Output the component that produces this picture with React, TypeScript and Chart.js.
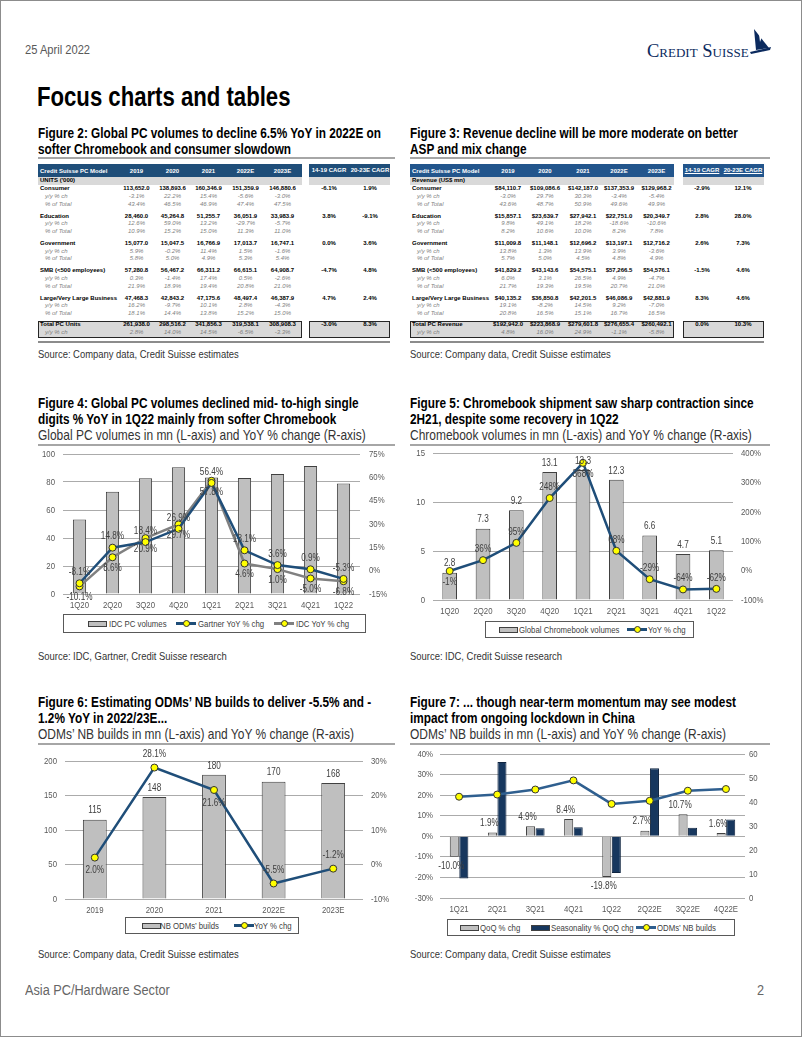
import React, { useEffect, useRef } from 'react';
import { Chart, registerables } from 'chart.js';

const SANS = '"Liberation Sans", Arial, sans-serif';
const NARROW_SCALE = 0.82;

// ---------------- Figure 2 (PC units, '000) ----------------
const tableYears = ['2019', '2020', '2021', '2022E', '2023E'];
const cagrHeaders = ['14-19 CAGR', '20-23E CAGR'];
const segments = ['Consumer', 'Education', 'Government', 'SMB (<500 employees)', 'Large/Very Large Business'];
const unitValues = [
  [113652.0, 138893.6, 160346.9, 151359.9, 146880.6],
  [28460.0, 45264.8, 51255.7, 36051.9, 33983.9],
  [15077.0, 15047.5, 16766.9, 17013.7, 16747.1],
  [57280.8, 56467.2, 66311.2, 66615.1, 64908.7],
  [47468.3, 42843.2, 47175.6, 48497.4, 46387.9],
];
const unitYoY = [
  [-3.1, 22.2, 15.4, -5.6, -3.0],
  [12.6, 59.0, 13.2, -29.7, -5.7],
  [5.9, -0.2, 11.4, 1.5, -1.6],
  [0.3, -1.4, 17.4, 0.5, -2.6],
  [16.2, -9.7, 10.1, 2.8, -4.3],
];
const unitShare = [
  [43.4, 46.5, 46.9, 47.4, 47.5],
  [10.9, 15.2, 15.0, 11.3, 11.0],
  [5.8, 5.0, 4.9, 5.3, 5.4],
  [21.9, 18.9, 19.4, 20.8, 21.0],
  [18.1, 14.4, 13.8, 15.2, 15.0],
];
const unitCagr = [[-6.1, 1.9], [3.8, -9.1], [0.0, 3.6], [-4.7, 4.8], [4.7, 2.4]];
const unitTotal = [261938.0, 298516.2, 341856.3, 319538.1, 308908.3];
const unitTotalYoY = [2.8, 14.0, 14.5, -6.5, -3.3];
const unitTotalCagr = [-3.0, 8.3];

// ---------------- Figure 3 (revenue, US$ mn) ----------------
const revValues = [
  [84110.7, 109086.6, 142187.0, 137353.9, 129968.2],
  [15857.1, 23639.7, 27942.1, 22751.0, 20349.7],
  [11009.8, 11148.1, 12696.2, 13197.1, 12716.2],
  [41829.2, 43143.6, 54575.1, 57266.5, 54576.1],
  [40135.2, 36850.8, 42201.5, 46086.9, 42881.9],
];
const revYoY = [
  [-3.0, 29.7, 30.3, -3.4, -5.4],
  [9.8, 49.1, 18.2, -18.6, -10.6],
  [13.8, 1.3, 13.9, 3.9, -3.6],
  [6.0, 3.1, 26.5, 4.9, -4.7],
  [19.1, -8.2, 14.5, 9.2, -7.0],
];
const revShare = [
  [43.6, 48.7, 50.9, 49.6, 49.9],
  [8.2, 10.6, 10.0, 8.2, 7.8],
  [5.7, 5.0, 4.5, 4.8, 4.9],
  [21.7, 19.3, 19.5, 20.7, 21.0],
  [20.8, 16.5, 15.1, 16.7, 16.5],
];
const revCagr = [[-2.9, 12.1], [2.8, 28.0], [2.6, 7.3], [-1.5, 4.6], [8.3, 4.6]];
const revTotal = [192942.0, 223868.9, 279601.8, 276655.4, 260492.1];
const revTotalYoY = [4.8, 16.0, 24.9, -1.1, -5.8];
const revTotalCagr = [0.0, 10.3];

// ---------------- Figure 4 ----------------
const pcQuarters = ['1Q20', '2Q20', '3Q20', '4Q20', '1Q21', '2Q21', '3Q21', '4Q21', '1Q22'];
const idcVolumes = [53.3, 73.1, 82.6, 90.5, 83.3, 82.9, 85.7, 91.4, 79.0];
const gartnerYoY = [-8.1, 14.8, 18.4, 26.9, 56.4, 13.1, 3.6, 0.9, -5.3];
const idcYoY = [-10.1, 8.6, 20.9, 29.7, 57.8, 4.6, 1.0, -5.0, -6.8];

// ---------------- Figure 5 ----------------
const cbQuarters = ['1Q20', '2Q20', '3Q20', '4Q20', '1Q21', '2Q21', '3Q21', '4Q21', '1Q22'];
const cbVolumes = [2.8, 7.3, 9.2, 13.1, 13.3, 12.3, 6.6, 4.7, 5.1];
const cbYoY = [-1, 36, 95, 248, 368, 68, -29, -64, -62];

// ---------------- Figure 6 ----------------
const odmYears = ['2019', '2020', '2021', '2022E', '2023E'];
const odmBuilds = [115, 148, 180, 170, 168];
const odmYoY = [2.0, 28.1, 21.6, -5.5, -1.2];

// ---------------- Figure 7 ----------------
const nbQuarters = ['1Q21', '2Q21', '3Q21', '4Q21', '1Q22', '2Q22E', '3Q22E', '4Q22E'];
const nbQoQ = [-10.0, 1.9, 4.9, 8.4, -19.8, 2.7, 10.7, 1.6];
const nbSeasonality = [-20.5, 36.1, 3.9, 4.4, -17.9, 33.1, 4.1, 8.2];
const nbBuilds = [42.2, 43.1, 45.2, 49.0, 39.2, 40.5, 44.7, 45.4];

// ---------------- Chart.js setup ----------------
const valueLabelPlugin = {
  id: 'valueLabels',
  afterDatasetsDraw(chart: any) {
    const ctx = chart.ctx;
    chart.data.datasets.forEach((ds: any, i: number) => {
      const lab = ds.valueLabels;
      if (!lab) return;
      const meta = chart.getDatasetMeta(i);
      ctx.save();
      ctx.font = `${lab.size || 10}px ${SANS}`;
      ctx.fillStyle = lab.color || '#404040';
      ctx.textAlign = 'center';
      ctx.textBaseline = 'middle';
      meta.data.forEach((el: any, j: number) => {
        const v = ds.data[j];
        const pos = Array.isArray(lab.pos) ? lab.pos[j] : lab.pos;
        const off = lab.offset ?? 10;
        let y = el.y;
        if (pos === 'end') y = v >= 0 ? el.y - off : el.y + off;
        else if (pos === 'below') y = el.y + off;
        else y = el.y - off;
        ctx.fillText(lab.fmt(v), el.x + (lab.dx || 0), y);
      });
      ctx.restore();
    });
  },
};

Chart.register(...registerables, valueLabelPlugin);

const tickFont = { family: SANS, size: 9.5 };
const tickColor = '#595959';
const gridColor = '#ababab';

function yAxis(position: string, min: number, max: number, step: number, width: number, suffix: string, grid: boolean, padding: number) {
  return {
    position,
    min,
    max,
    ticks: {
      stepSize: step,
      color: tickColor,
      font: tickFont,
      padding,
      callback: (v: any) => `${v}${suffix}`,
    },
    grid: { display: grid, color: gridColor, drawTicks: false, lineWidth: 1 },
    border: { display: false },
    afterFit: (s: any) => { s.width = width; s.paddingTop = 0; s.paddingBottom = 0; },
  };
}

function xAxis(height: number) {
  return {
    grid: { display: false, drawTicks: false },
    border: { display: false },
    ticks: { color: tickColor, font: tickFont, padding: 6, maxRotation: 0, autoSkip: false },
    afterFit: (s: any) => { s.height = height; s.paddingLeft = 0; s.paddingRight = 0; },
  };
}

const baseOptions = (top: number) => ({
  responsive: false,
  animation: false,
  devicePixelRatio: 1,
  layout: { padding: { top, left: 0, right: 0, bottom: 0 } },
  plugins: { legend: { display: false }, tooltip: { enabled: false } },
});

const pct0 = (v: number) => `${v}%`;
const pct1 = (v: number) => `${v.toFixed(1)}%`;

const lineStyle = (color: string) => ({
  type: 'line',
  borderColor: color,
  backgroundColor: color,
  borderWidth: 2.5,
  pointRadius: 3.5,
  pointBackgroundColor: '#ffff00',
  pointBorderColor: '#333333',
  pointBorderWidth: 1,
  tension: 0,
  yAxisID: 'y1',
});

const barStyle = (color: string) => ({
  type: 'bar',
  backgroundColor: color,
  borderColor: '#404040',
  borderWidth: 1,
  yAxisID: 'y',
});

const fig4Config: any = {
  type: 'bar',
  data: {
    labels: pcQuarters,
    datasets: [
      { ...lineStyle('#1f4e79'), label: 'Gartner YoY % chg', data: gartnerYoY, order: 0,
        valueLabels: { fmt: pct1, pos: 'above', offset: 11 } },
      { ...lineStyle('#808080'), label: 'IDC YoY % chg', data: idcYoY, order: 1,
        valueLabels: { fmt: pct1, pos: 'below', offset: 11 } },
      { ...barStyle('#bfbfbf'), label: 'IDC PC volumes', data: idcVolumes, order: 2,
        categoryPercentage: 0.8, barPercentage: 0.5 },
    ],
  },
  options: {
    ...baseOptions(8),
    scales: {
      x: xAxis(18),
      y: yAxis('left', 0, 100, 20, 25, '', true, 8),
      y1: yAxis('right', -15, 75, 15, 35, '%', false, 9),
    },
  },
};

const fig5Config: any = {
  type: 'bar',
  data: {
    labels: cbQuarters,
    datasets: [
      { ...lineStyle('#1f4e79'), label: 'YoY % chg', data: cbYoY, order: 0,
        valueLabels: { fmt: pct0, pos: ['below', 'above', 'above', 'above', 'below', 'above', 'above', 'above', 'above'], offset: 11 } },
      { ...barStyle('#bfbfbf'), label: 'Global Chromebook volumes', data: cbVolumes, order: 1,
        categoryPercentage: 0.8, barPercentage: 0.55,
        valueLabels: { fmt: (v: number) => v.toFixed(1), pos: 'end', offset: 9 } },
    ],
  },
  options: {
    ...baseOptions(7.5),
    scales: {
      x: xAxis(18),
      y: yAxis('left', 0, 15, 5, 23, '', true, 8),
      y1: yAxis('right', -100, 400, 100, 37, '%', false, 8),
    },
  },
};

const fig6Config: any = {
  type: 'bar',
  data: {
    labels: odmYears,
    datasets: [
      { ...lineStyle('#1f4e79'), label: 'YoY % chg', data: odmYoY, order: 0,
        valueLabels: { fmt: pct1, pos: ['below', 'above', 'below', 'above', 'above'], offset: 13 } },
      { ...barStyle('#bfbfbf'), label: 'NB ODMs’ builds', data: odmBuilds, order: 1,
        categoryPercentage: 0.8, barPercentage: 0.5,
        valueLabels: { fmt: (v: number) => `${v}`, pos: 'end', offset: 9 } },
    ],
  },
  options: {
    ...baseOptions(14),
    scales: {
      x: xAxis(18),
      y: yAxis('left', 0, 200, 50, 27, '', true, 8),
      y1: yAxis('right', -10, 30, 10, 32, '%', false, 8),
    },
  },
};

const fig7Config: any = {
  type: 'bar',
  data: {
    labels: nbQuarters,
    datasets: [
      { ...lineStyle('#2f5f8f'), label: 'ODMs’ NB builds', data: nbBuilds, order: 0 },
      { ...barStyle('#bfbfbf'), label: 'QoQ % chg', data: nbQoQ, order: 1,
        categoryPercentage: 0.5, barPercentage: 0.95,
        valueLabels: { fmt: pct1, pos: 'end', offset: 9, dx: -3 } },
      { ...barStyle('#17375e'), label: 'Seasonality % QoQ chg', data: nbSeasonality, order: 2,
        categoryPercentage: 0.5, barPercentage: 0.95, borderColor: '#0f2440' },
    ],
  },
  options: {
    ...baseOptions(8),
    scales: {
      x: xAxis(18),
      y: yAxis('left', -30, 40, 10, 30, '%', true, 7),
      y1: yAxis('right', 0, 60, 10, 25, '', false, 4),
    },
  },
};

// ---------------- components ----------------
function ChartBox({ left, top, width, height, config }: any) {
  const ref = useRef<HTMLCanvasElement>(null);
  useEffect(() => {
    const canvas = ref.current as HTMLCanvasElement;
    const ctx: any = canvas.getContext('2d');
    // condensed text rendering (emulates a narrow sans face)
    const orig = ctx.fillText.bind(ctx);
    ctx.fillText = (text: string, x: number, y: number, maxWidth?: number) => {
      ctx.save();
      ctx.translate(x, y);
      ctx.scale(NARROW_SCALE, 1);
      if (maxWidth === undefined) orig(text, 0, 0);
      else orig(text, 0, 0, maxWidth / NARROW_SCALE);
      ctx.restore();
    };
    const chart = new Chart(canvas, config);
    return () => { chart.destroy(); ctx.fillText = orig; };
  }, []);
  return (
    <canvas ref={ref} width={width} height={height}
      style={{ position: 'absolute', left, top, width, height }} />
  );
}

function T({ x, y, s = 12, w = 400, c = '#000', narrow = true, italic = false, align = 'left', u = false, children }: any) {
  const style: any = {
    position: 'absolute', top: y - s * 0.6, height: s * 1.2, lineHeight: `${s * 1.2}px`,
    fontSize: s, fontWeight: w, color: c, fontFamily: SANS, whiteSpace: 'nowrap',
    fontStyle: italic ? 'italic' : 'normal', textDecoration: u ? 'underline' : 'none',
  };
  if (align === 'center') { style.left = x - 60; style.width = 120; style.textAlign = 'center'; }
  else if (align === 'right') { style.left = x - 200; style.width = 200; style.textAlign = 'right'; }
  else style.left = x;
  const origin = align === 'center' ? 'center' : align === 'right' ? 'right' : 'left';
  return (
    <div style={style}>
      {narrow ? (
        <span style={{ display: 'inline-block', transform: `scaleX(${NARROW_SCALE})`, transformOrigin: origin }}>{children}</span>
      ) : children}
    </div>
  );
}

function Box({ x, y, w, h, bg = 'transparent', border }: any) {
  return <div style={{ position: 'absolute', left: x, top: y, width: w, height: h, background: bg, border, boxSizing: 'border-box' }} />;
}

const fmtNum = (v: number, prefix: string) =>
  prefix + v.toLocaleString('en-US', { minimumFractionDigits: 1, maximumFractionDigits: 1 });

function DataTable({ x0, mainRight, cagrLeft, cagrRight, cols, cagrCols, unitLabel, totalLabel, values, yoy, share, cagr, total, totalYoy, totalCagr, prefix, underline, headerBlue }: any) {
  const fs = 6;
  const n = false;
  const items: any[] = [];
  const hTop = 164, hBot = 177;
  items.push(<Box key="hb" x={x0} y={hTop} w={mainRight - x0} h={hBot - hTop} bg={headerBlue} />);
  items.push(<Box key="hc" x={cagrLeft} y={hTop} w={cagrRight - cagrLeft} h={hBot - hTop} bg={headerBlue} />);
  items.push(<Box key="ug" x={x0} y={hBot} w={mainRight - x0} h={7.5} bg="#d9d9d9" />);
  items.push(<Box key="ugc" x={cagrLeft} y={hBot} w={cagrRight - cagrLeft} h={7.5} bg="#d9d9d9" />);
  const hy = 172;
  items.push(<T key="ht" x={x0 + 2} y={hy} s={fs} w={700} c="#fff" narrow={n}>Credit Suisse PC Model</T>);
  tableYears.forEach((yr: string, i: number) =>
    items.push(<T key={'hy' + i} x={cols[i]} y={hy} s={fs} w={700} c="#fff" narrow={n} align="center">{yr}</T>));
  cagrHeaders.forEach((h: string, i: number) =>
    items.push(<T key={'hcg' + i} x={cagrCols[i]} y={hy - 1} s={fs} w={700} c="#fff" narrow={n} align="center" u={underline}>{h}</T>));
  items.push(<T key="ul" x={x0 + 2} y={181} s={fs} w={700} c="#000" narrow={n}>{unitLabel}</T>);
  segments.forEach((seg: string, g: number) => {
    const base = 189 + g * 27.3;
    items.push(<T key={'sg' + g} x={x0 + 2} y={base} s={fs} w={700} narrow={n}>{seg}</T>);
    items.push(<T key={'sy' + g} x={x0 + 7} y={base + 7.7} s={fs} italic c="#7f7f7f" narrow={n}>y/y % ch</T>);
    items.push(<T key={'ss' + g} x={x0 + 7} y={base + 15.4} s={fs} italic c="#7f7f7f" narrow={n}>% of Total</T>);
    values[g].forEach((v: number, i: number) => {
      items.push(<T key={`v${g}-${i}`} x={cols[i]} y={base} s={fs} w={700} narrow={n} align="center">{fmtNum(v, prefix)}</T>);
      items.push(<T key={`y${g}-${i}`} x={cols[i]} y={base + 7.7} s={fs} italic c="#7f7f7f" narrow={n} align="center">{yoy[g][i].toFixed(1)}%</T>);
      items.push(<T key={`s${g}-${i}`} x={cols[i]} y={base + 15.4} s={fs} italic c="#7f7f7f" narrow={n} align="center">{share[g][i].toFixed(1)}%</T>);
    });
    cagr[g].forEach((v: number, i: number) =>
      items.push(<T key={`c${g}-${i}`} x={cagrCols[i]} y={base} s={fs} w={700} narrow={n} align="center">{v.toFixed(1)}%</T>));
  });
  items.push(<Box key="tb" x={x0} y={320.5} w={mainRight - x0} h={17} bg="#d9d9d9" border="1.5px solid #262626" />);
  items.push(<Box key="tbc" x={cagrLeft} y={320.5} w={cagrRight - cagrLeft} h={17} bg="#d9d9d9" border="1.5px solid #262626" />);
  items.push(<T key="tl" x={x0 + 2} y={325} s={fs} w={700} narrow={n}>{totalLabel}</T>);
  items.push(<T key="tly" x={x0 + 7} y={333} s={fs} italic c="#7f7f7f" narrow={n}>y/y % ch</T>);
  total.forEach((v: number, i: number) => {
    items.push(<T key={'tv' + i} x={cols[i]} y={325} s={fs} w={700} narrow={n} align="center">{fmtNum(v, prefix)}</T>);
    items.push(<T key={'ty' + i} x={cols[i]} y={333} s={fs} italic c="#7f7f7f" narrow={n} align="center">{totalYoy[i].toFixed(1)}%</T>);
  });
  totalCagr.forEach((v: number, i: number) =>
    items.push(<T key={'tc' + i} x={cagrCols[i]} y={325} s={fs} w={700} narrow={n} align="center">{v.toFixed(1)}%</T>));
  items.push(<Box key="bl" x={x0} y={341} w={cagrRight - x0} h={1.5} bg="#8c8c8c" />);
  return <>{items}</>;
}

function Legend({ x, y, w, h, items }: any) {
  const cy = y + h / 2;
  return (
    <>
      <Box x={x} y={y} w={w} h={h} border="1px solid #595959" />
      {items.map((it: any, i: number) => (
        <React.Fragment key={i}>
          {it.kind === 'bar' ? (
            <div style={{ position: 'absolute', left: it.sx, top: cy - 3, width: 19, height: 6, background: it.color, border: '1px solid #404040', boxSizing: 'border-box' }} />
          ) : (
            <>
              <div style={{ position: 'absolute', left: it.sx, top: cy - 1.25, width: 20, height: 2.5, background: it.color }} />
              <div style={{ position: 'absolute', left: it.sx + 6.5, top: cy - 3.5, width: 7, height: 7, borderRadius: '50%', background: '#ffff00', border: '1px solid #333', boxSizing: 'border-box' }} />
            </>
          )}
          <T x={it.tx} y={cy} s={9.5} c="#404040">{it.label}</T>
        </React.Fragment>
      ))}
    </>
  );
}

function Heading({ x, y, lines, sub }: any) {
  return (
    <>
      {lines.map((l: string, i: number) => (
        <T key={i} x={x} y={y + i * 16} s={14.4} w={700}>{l}</T>
      ))}
      {sub ? <T x={x} y={y + lines.length * 16} s={14.6} c="#333">{sub}</T> : null}
    </>
  );
}

export default function App() {
  return (
    <div style={{ position: 'fixed', left: 0, top: 0, width: 802, height: 1037, background: '#fff', overflow: 'hidden', fontFamily: SANS }}>
      <div style={{ position: 'absolute', left: 0, top: 0, width: 802, height: 1037, border: '1px solid #8c8c8c', boxSizing: 'border-box' }} />

      <T x={25} y={50} s={13.6} c="#595959">25 April 2022</T>
      <div style={{ position: 'absolute', left: 647, top: 41, fontFamily: '"Liberation Serif", serif', fontVariant: 'small-caps', fontSize: 18.5, color: '#0b2a5e', whiteSpace: 'nowrap', lineHeight: '20px' }}>Credit Suisse</div>
      <svg style={{ position: 'absolute', left: 747, top: 28 }} width={26} height={28} viewBox="0 0 26 28">
        <polygon points="7,1 22,20 9,22" fill="#0b2a5e" />
        <polygon points="12,6 15,9 13,14" fill="#ffffff" />
        <polygon points="3,24 24,19 23,22 4,26" fill="#0b2a5e" />
      </svg>
      <T x={37} y={97} s={27} w={700}>Focus charts and tables</T>

      {/* Figure 2 & 3 */}
      <Heading x={38} y={134} lines={['Figure 2: Global PC volumes to decline 6.5% YoY in 2022E on', 'softer Chromebook and consumer slowdown']} />
      <Heading x={410} y={134} lines={['Figure 3: Revenue decline will be more moderate on better', 'ASP and mix change']} />
      <Box x={38} y={157} w={357} h={2} bg="#a6a6a6" />
      <Box x={410} y={157} w={360} h={2} bg="#a6a6a6" />

      <DataTable x0={38} mainRight={302} cagrLeft={309} cagrRight={390}
        cols={[136.5, 172.5, 208.5, 245.5, 282.5]} cagrCols={[329, 370]}
        unitLabel="UNITS ('000)" totalLabel="Total PC Units"
        values={unitValues} yoy={unitYoY} share={unitShare} cagr={unitCagr}
        total={unitTotal} totalYoy={unitTotalYoY} totalCagr={unitTotalCagr} prefix="" underline={false} headerBlue="#1f4e79" />
      <DataTable x0={410} mainRight={674} cagrLeft={683} cagrRight={764}
        cols={[508, 545, 583, 619, 656.5]} cagrCols={[702, 743]}
        unitLabel="Revenue (US$ mn)" totalLabel="Total PC Revenue"
        values={revValues} yoy={revYoY} share={revShare} cagr={revCagr}
        total={revTotal} totalYoy={revTotalYoY} totalCagr={revTotalCagr} prefix="$" underline={true} headerBlue="#22558c" />

      <T x={38} y={355} s={11.5} c="#333">Source: Company data, Credit Suisse estimates</T>
      <T x={410} y={355} s={11.5} c="#333">Source: Company data, Credit Suisse estimates</T>

      {/* Figure 4 & 5 */}
      <Heading x={38} y={404} lines={['Figure 4: Global PC volumes declined mid- to-high single', 'digits % YoY in 1Q22 mainly from softer Chromebook']}
        sub="Global PC volumes in mn (L-axis) and YoY % change (R-axis)" />
      <Heading x={410} y={404} lines={['Figure 5: Chromebook shipment saw sharp contraction since', '2H21, despite some recovery in 1Q22']}
        sub="Chromebook volumes in mn (L-axis) and YoY % change (R-axis)" />
      <Box x={38} y={444} w={357} h={2} bg="#a6a6a6" />
      <Box x={410} y={444} w={360} h={2} bg="#a6a6a6" />

      <ChartBox left={38} top={446} width={357} height={166} config={fig4Config} />
      <Legend x={63} y={614} w={303} h={19} items={[
        { kind: 'bar', color: '#bfbfbf', sx: 88, tx: 109, label: 'IDC PC volumes' },
        { kind: 'line', color: '#1f4e79', sx: 176, tx: 198, label: 'Gartner YoY % chg' },
        { kind: 'line', color: '#808080', sx: 274, tx: 296, label: 'IDC YoY % chg' },
      ]} />
      <ChartBox left={410} top={446} width={360} height={172} config={fig5Config} />
      <Legend x={485} y={621} w={209} h={17} items={[
        { kind: 'bar', color: '#bfbfbf', sx: 499, tx: 519, label: 'Global Chromebook volumes' },
        { kind: 'line', color: '#1f4e79', sx: 627, tx: 648, label: 'YoY % chg' },
      ]} />

      <T x={38} y={657} s={11.5} c="#333">Source: IDC, Gartner, Credit Suisse research</T>
      <T x={410} y={657} s={11.5} c="#333">Source: IDC, Credit Suisse research</T>

      {/* Figure 6 & 7 */}
      <Heading x={38} y={703} lines={['Figure 6: Estimating ODMs’ NB builds to deliver -5.5% and -', '1.2% YoY in 2022/23E...']}
        sub="ODMs’ NB builds in mn (L-axis) and YoY % change (R-axis)" />
      <Heading x={410} y={703} lines={['Figure 7: ... though near-term momentum may see modest', 'impact from ongoing lockdown in China']}
        sub="ODMs’ NB builds in mn (L-axis) and YoY % change (R-axis)" />
      <Box x={38} y={743} w={357} h={2} bg="#a6a6a6" />
      <Box x={410} y={743} w={360} h={2} bg="#a6a6a6" />

      <ChartBox left={38} top={747} width={357} height={170} config={fig6Config} />
      <Legend x={125} y={917} w={174} h={17} items={[
        { kind: 'bar', color: '#bfbfbf', sx: 142, tx: 160, label: 'NB ODMs’ builds' },
        { kind: 'line', color: '#1f4e79', sx: 234, tx: 254, label: 'YoY % chg' },
      ]} />
      <ChartBox left={410} top={746} width={360} height={170} config={fig7Config} />
      <Legend x={447} y={919} w={288} h={17} items={[
        { kind: 'bar', color: '#bfbfbf', sx: 460, tx: 480, label: 'QoQ % chg' },
        { kind: 'bar', color: '#17375e', sx: 531, tx: 551, label: 'Seasonality % QoQ chg' },
        { kind: 'line', color: '#2f5f8f', sx: 636, tx: 657, label: 'ODMs’ NB builds' },
      ]} />

      <T x={38} y={955} s={11.5} c="#333">Source: Company data, Credit Suisse estimates</T>
      <T x={410} y={955} s={11.5} c="#333">Source: Company data, Credit Suisse estimates</T>

      <T x={25} y={990} s={15.5} c="#666">Asia PC/Hardware Sector</T>
      <T x={757} y={990} s={15.5} c="#666">2</T>
    </div>
  );
}
